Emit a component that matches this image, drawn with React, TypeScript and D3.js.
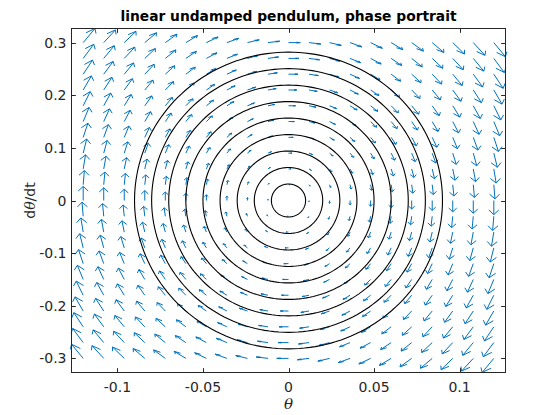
import React from "react";
import * as d3 from "d3";

// Grid of the quiver field (theta, dtheta/dt)
const thetaGrid = [
  -0.12, -0.108, -0.096, -0.084, -0.072, -0.06, -0.048, -0.036, -0.024, -0.012, 0,
  0.012, 0.024, 0.036, 0.048, 0.06, 0.072, 0.084, 0.096, 0.108, 0.12,
];
const omegaGrid = [
  -0.3, -0.27, -0.24, -0.21, -0.18, -0.15, -0.12, -0.09, -0.06, -0.03, 0,
  0.03, 0.06, 0.09, 0.12, 0.15, 0.18, 0.21, 0.24, 0.27, 0.3,
];
// Amplitudes of the plotted trajectories
const amplitudes = [0.01, 0.02, 0.03, 0.04, 0.05, 0.06, 0.07, 0.08, 0.09];
const gOverL = 9.81;

const xTicks = [-0.1, -0.05, 0, 0.05, 0.1];
const xTickLabels = ["-0.1", "-0.05", "0", "0.05", "0.1"];
const yTicks = [-0.3, -0.2, -0.1, 0, 0.1, 0.2, 0.3];
const yTickLabels = ["-0.3", "-0.2", "-0.1", "0", "0.1", "0.2", "0.3"];

const titleText = "linear undamped pendulum, phase portrait";

const W = 560;
const H = 415;
const L = 71.5, R = 505.5, T = 28.5, B = 372.5;

export default function App() {
  // quiver vectors (MATLAB-style autoscale 0.9)
  const pts: { x: number; y: number; u: number; v: number }[] = [];
  for (const w of omegaGrid) for (const th of thetaGrid) pts.push({ x: th, y: w, u: w, v: -gOverL * th });
  const n = Math.sqrt(pts.length);
  const delx = (d3.max(thetaGrid)! - d3.min(thetaGrid)!) / n;
  const dely = (d3.max(omegaGrid)! - d3.min(omegaGrid)!) / n;
  const del = delx * delx + dely * dely;
  const maxlen = d3.max(pts, (p) => Math.sqrt((p.u * p.u + p.v * p.v) / del))!;
  const s = 0.9 / maxlen;
  const arrows = pts.map((p) => ({ x: p.x, y: p.y, u: p.u * s, v: p.v * s }));

  const xmin = d3.min(arrows, (a) => Math.min(a.x, a.x + a.u))!;
  const xmax = d3.max(arrows, (a) => Math.max(a.x, a.x + a.u))!;
  const ymin = d3.min(arrows, (a) => Math.min(a.y, a.y + a.v))!;
  const ymax = d3.max(arrows, (a) => Math.max(a.y, a.y + a.v))!;

  const x = d3.scaleLinear().domain([xmin, xmax]).range([L, R]);
  const y = d3.scaleLinear().domain([ymin, ymax]).range([B, T]);

  const alpha = 0.33, beta = 0.33;
  const arrowPath = arrows
    .map((a) => {
      const tx = a.x + a.u, ty = a.y + a.v;
      const h1x = tx - alpha * (a.u + beta * a.v), h1y = ty - alpha * (a.v - beta * a.u);
      const h2x = tx - alpha * (a.u - beta * a.v), h2y = ty - alpha * (a.v + beta * a.u);
      return `M${x(a.x)},${y(a.y)}L${x(tx)},${y(ty)}M${x(h1x)},${y(h1y)}L${x(tx)},${y(ty)}L${x(h2x)},${y(h2y)}`;
    })
    .join("");

  const omega = Math.sqrt(gOverL);
  const ellipses = amplitudes.map((A) => {
    const ts = d3.range(0, 2 * Math.PI, Math.PI / 90);
    return d3
      .line<number>()
      .x((t) => x(A * Math.cos(t)))
      .y((t) => y(-A * omega * Math.sin(t)))
      .curve(d3.curveLinearClosed)(ts)!;
  });

  const tickLen = 4.34;
  const axisColor = "#262626";
  const font = "DejaVu Sans, sans-serif";

  return (
    <svg width={W} height={H} style={{ position: "absolute", left: 0, top: 0, background: "#fff" }}>
      <rect x={0} y={0} width={W} height={H} fill="#fff" />
      <rect x={L} y={T} width={R - L} height={B - T} fill="#fff" />
      <path d={arrowPath} fill="none" stroke="#0072BD" strokeWidth={1} />
      {ellipses.map((d, i) => (
        <path key={i} d={d} fill="none" stroke="#000" strokeWidth={1.1} />
      ))}
      {/* box & ticks */}
      <g stroke={axisColor} strokeWidth={1} fill="none">
        <rect x={L} y={T} width={R - L} height={B - T} />
        {xTicks.map((t, i) => (
          <g key={"xt" + i}>
            <line x1={Math.round(x(t)) + 0.5} x2={Math.round(x(t)) + 0.5} y1={B} y2={B - tickLen} />
            <line x1={Math.round(x(t)) + 0.5} x2={Math.round(x(t)) + 0.5} y1={T} y2={T + tickLen} />
          </g>
        ))}
        {yTicks.map((t, i) => (
          <g key={"yt" + i}>
            <line x1={L} x2={L + tickLen} y1={Math.round(y(t)) + 0.5} y2={Math.round(y(t)) + 0.5} />
            <line x1={R} x2={R - tickLen} y1={Math.round(y(t)) + 0.5} y2={Math.round(y(t)) + 0.5} />
          </g>
        ))}
      </g>
      <g fill={axisColor} fontFamily={font} fontSize={14}>
        {xTicks.map((t, i) => (
          <text key={"xl" + i} x={x(t)} y={392} textAnchor="middle">
            {xTickLabels[i]}
          </text>
        ))}
        {yTicks.map((t, i) => (
          <text key={"yl" + i} x={L - 5} y={y(t) + 5} textAnchor="end">
            {yTickLabels[i]}
          </text>
        ))}
      </g>
      <text x={(L + R) / 2} y={409} textAnchor="middle" fontFamily="DejaVu Serif, serif" fontStyle="italic" fontSize={15} fill={axisColor}>
        θ
      </text>
      <text
        transform={`translate(35,${(T + B) / 2}) rotate(-90)`}
        textAnchor="middle"
        fontFamily={font}
        fontSize={14}
        fill={axisColor}
      >
        d<tspan fontFamily="DejaVu Serif, serif" fontStyle="italic">θ</tspan>/dt
      </text>
      <text x={(L + R) / 2} y={21} textAnchor="middle" fontFamily={font} fontWeight="bold" fontSize={13.8} fill="#000">
        {titleText}
      </text>
    </svg>
  );
}
